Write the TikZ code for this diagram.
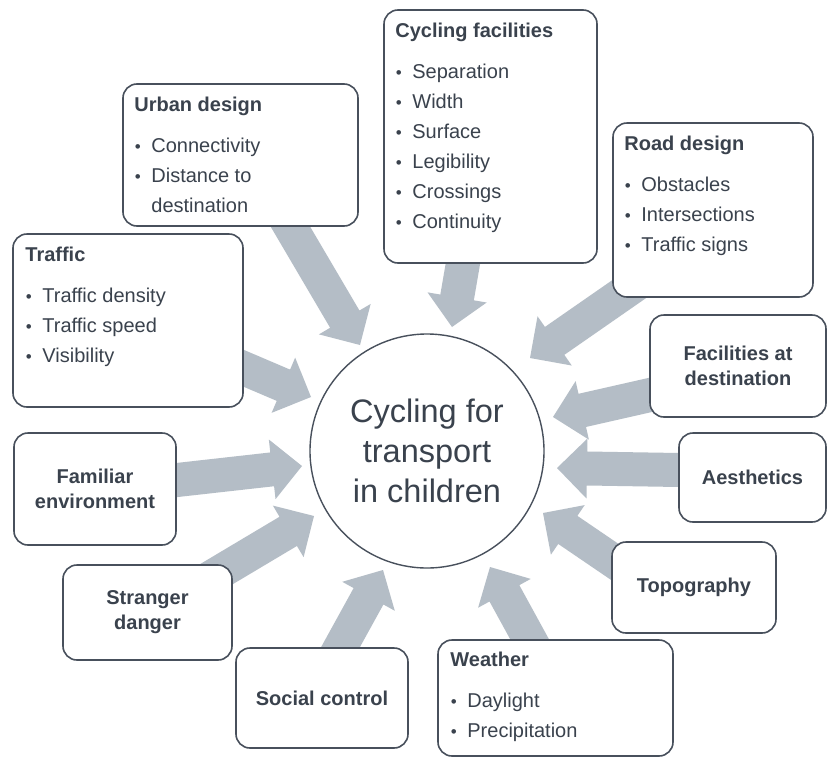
\documentclass[tikz,border=0pt]{standalone}
\usepackage{fontspec}
\setmainfont{Liberation Sans}
\usetikzlibrary{calc,backgrounds}
\definecolor{txt}{RGB}{58,66,77}
\definecolor{edge}{RGB}{72,80,92}
\definecolor{arr}{RGB}{180,189,198}
\newcommand{\bitem}{\makebox[17pt][l]{\hspace{0.5pt}\raisebox{0.5pt}{\fontsize{17}{17}\selectfont •}}}
% block arrow from coordinate #1 (start) to coordinate #2 (tip)
\newcommand{\barrow}[2]{%
  \path ($(#1)!-30pt!(#2)$) coordinate (bS) ($(#2)!30pt!(#1)$) coordinate (bH);
  \fill[arr] ($(bS)!17pt!90:(#2)$) -- ($(bH)!17pt!90:(#2)$) -- ($(bH)!30pt!90:(#2)$) -- (#2)
    -- ($(bH)!30pt!-90:(#2)$) -- ($(bH)!17pt!-90:(#2)$) -- ($(bS)!17pt!-90:(#2)$) -- cycle;}
\begin{document}
\begin{tikzpicture}[x=1pt,y=-1pt,
  box/.style={draw=edge, line width=1.6pt, rounded corners=14pt, fill=white, rectangle, inner sep=0pt},
  lbl/.style={text=txt, font=\fontsize{20}{25}\selectfont\bfseries, align=center},
  lst/.style={text=txt, font=\fontsize{20}{30}\selectfont, align=left, anchor=north west, inner sep=0pt}]
\useasboundingbox (0,0) rectangle (829,758);

% central circle
\node[circle, draw=edge, line width=1.4pt, fill=white, minimum size=234pt, inner sep=0pt,
      text=txt, font=\fontsize{32.5}{40}\selectfont, align=center] (circ) at (427,451)
      {Cycling for\\transport\\in children};

% boxes
\node[box, minimum width=235pt, minimum height=142pt] (urban) at (240.5,155) {};
\node[box, minimum width=213pt, minimum height=253pt] (cyc) at (490.5,136.5) {};
\node[box, minimum width=200pt, minimum height=174pt] (road) at (713,210) {};
\node[box, minimum width=230pt, minimum height=173pt] (traffic) at (128,320.5) {};
\node[box, lbl, minimum width=176pt, minimum height=102pt] (facil) at (738,366) {Facilities at\\destination};
\node[box, lbl, minimum width=147pt, minimum height=89pt] (aesth) at (752.5,477.5) {Aesthetics};
\node[box, lbl, minimum width=164pt, minimum height=91pt] (topo) at (694,587.5) {Topography};
\node[box, minimum width=235pt, minimum height=116pt] (weather) at (555.5,698) {};
\node[box, lbl, minimum width=172pt, minimum height=100pt] (social) at (322,698) {Social control};
\node[box, lbl, minimum width=169pt, minimum height=95pt] (stranger) at (147.5,612.5) {Stranger\\danger};
\node[box, lbl, minimum width=162pt, minimum height=112pt] (familiar) at (95,489) {Familiar\\environment};

% list texts
\node[lst] (urbanT) at ([shift={(12,14)}]urban.north west)
  {\textbf{Urban design}\\[11pt]\bitem Connectivity\\\bitem Distance to\\\hspace*{17pt}destination};
\node[lst] (cycT) at ([shift={(12,14)}]cyc.north west)
  {\textbf{Cycling facilities}\\[11pt]\bitem Separation\\\bitem Width\\\bitem Surface\\\bitem Legibility\\\bitem Crossings\\\bitem Continuity};
\node[lst] (roadT) at ([shift={(12,14)}]road.north west)
  {\textbf{Road design}\\[11pt]\bitem Obstacles\\\bitem Intersections\\\bitem Traffic signs};
\node[lst] (trafficT) at ([shift={(13,14)}]traffic.north west)
  {\textbf{Traffic}\\[11pt]\bitem Traffic density\\\bitem Traffic speed\\\bitem Visibility};
\node[lst] (weatherT) at ([shift={(13,13)}]weather.north west)
  {\textbf{Weather}\\[11pt]\bitem Daylight\\\bitem Precipitation};

% arrow end points
\coordinate (sU) at (290,226);  \coordinate (tU) at (360,345);
\coordinate (sC) at (463,263);  \coordinate (tC) at (452,327);
\coordinate (sR) at (625,292);  \coordinate (tR) at (530,358);
\coordinate (sF) at (650,395);  \coordinate (tF) at (553,417);
\coordinate (sA) at (679,470);  \coordinate (tA) at (557,468);
\coordinate (sT) at (612,560);  \coordinate (tT) at (543,513);
\coordinate (sW) at (530,640);  \coordinate (tW) at (490,567);
\coordinate (sS) at (340,648);  \coordinate (tS) at (383,570);
\coordinate (sD) at (215,575);  \coordinate (tD) at (314,516);
\coordinate (sE) at (177,480);  \coordinate (tE) at (302,466);
\coordinate (sX) at (243,368);  \coordinate (tX) at (311,397);

\begin{scope}[on background layer]
\fill[white] (0,0) rectangle (829,758);
\barrow{sU}{tU}
\barrow{sC}{tC}
\barrow{sR}{tR}
\barrow{sF}{tF}
\barrow{sA}{tA}
\barrow{sT}{tT}
\barrow{sW}{tW}
\barrow{sS}{tS}
\barrow{sD}{tD}
\barrow{sE}{tE}
\barrow{sX}{tX}
\end{scope}
\end{tikzpicture}
\end{document}
